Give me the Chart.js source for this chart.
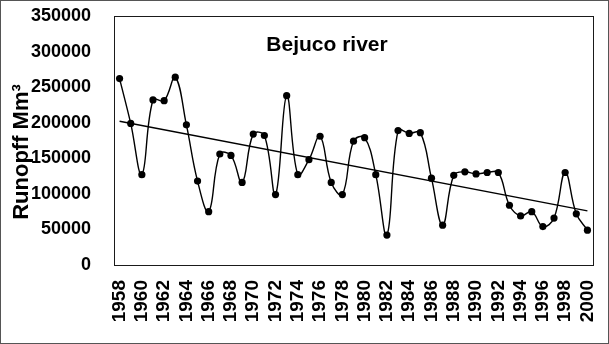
<!DOCTYPE html>
<html>
<head>
<meta charset="utf-8">
<script src="https://cdn.jsdelivr.net/npm/chart.js@4/dist/chart.umd.min.js"></script>
<style>
  html, body { margin: 0; padding: 0; background: #fff; }
  #wrap { width: 609px; height: 344px; }
</style>
</head>
<body>
<div id="wrap"><canvas id="runoffChart" width="609" height="344"></canvas></div>
<script>
const years = [1958, 1959, 1960, 1961, 1962, 1963, 1964, 1965, 1966, 1967,
    1968, 1969, 1970, 1971, 1972, 1973, 1974, 1975, 1976, 1977,
    1978, 1979, 1980, 1981, 1982, 1983, 1984, 1985, 1986, 1987,
    1988, 1989, 1990, 1991, 1992, 1993, 1994, 1995, 1996, 1997,
    1998, 1999, 2000];
const runoff = [262000, 199000, 127000, 232000, 231000, 264000, 197000, 118000, 75000, 156000,
    154000, 116000, 184000, 182000, 99000, 238000, 127000, 148000, 181000, 116000,
    99000, 174000, 179000, 127000, 42000, 189000, 185000, 186000, 122000, 56000,
    126000, 131000, 128000, 130000, 130000, 84000, 69000, 75000, 54000, 66000,
    130000, 72000, 49000];
// linear trend, read at first and last year
const trendEnds = [202000, 76000];
const yTicks = [0, 50000, 100000, 150000, 200000, 250000, 300000, 350000];

const trend = years.map((y, i) => i === 0 ? trendEnds[0] : (i === years.length - 1 ? trendEnds[1] : null));

const FONT = 'Arial, "Liberation Sans", sans-serif';

// keep the plot box where the reference has it
function noPad(scale) {
    scale.paddingTop = 0;
    scale.paddingBottom = 0;
    scale.paddingLeft = 0;
    scale.paddingRight = 0;
}

const decorations = {
    id: 'decorations',
    afterDraw(chart) {
        const { ctx, chartArea } = chart;
        ctx.save();
        // plot box
        ctx.strokeStyle = '#1a1a1a';
        ctx.lineWidth = 1;
        ctx.strokeRect(chartArea.left + 0.5, chartArea.top + 0.5,
            chartArea.right - chartArea.left, chartArea.bottom - chartArea.top);
        // outer frame
        ctx.strokeStyle = '#555';
        ctx.strokeRect(0.5, 0.5, chart.width - 1, chart.height - 1);
        // chart title inside the plot
        ctx.fillStyle = '#000';
        ctx.font = 'bold 21px ' + FONT;
        ctx.textAlign = 'center';
        ctx.textBaseline = 'middle';
        ctx.fillText('Bejuco river', 327, 45);
        // y axis title
        ctx.translate(22, 152);
        ctx.rotate(-Math.PI / 2);
        ctx.font = 'bold 22px ' + FONT;
        ctx.fillText('Runopff Mm\u00b3', 0, 0);
        ctx.restore();
    }
};

new Chart(document.getElementById('runoffChart'), {
    type: 'line',
    data: {
        labels: years,
        datasets: [{
            label: 'Runoff',
            data: runoff,
            borderColor: '#000',
            backgroundColor: '#000',
            borderWidth: 1.4,
            tension: 0.4,
            pointRadius: 3.6,
            pointBackgroundColor: '#000',
            pointBorderWidth: 0,
            fill: false
        }, {
            label: 'Trend',
            data: trend,
            borderColor: '#000',
            borderWidth: 1.4,
            pointRadius: 0,
            spanGaps: true,
            fill: false
        }]
    },
    options: {
        responsive: false,
        animation: false,
        layout: { padding: { top: 16, right: 16, left: 0, bottom: 0 } },
        plugins: {
            legend: { display: false },
            tooltip: { enabled: false }
        },
        scales: {
            x: {
                offset: true,
                grid: { display: false },
                border: { display: false },
                afterFit: (scale) => { scale.height = 79; noPad(scale); },
                ticks: {
                    autoSkip: false,
                    minRotation: 90,
                    maxRotation: 90,
                    padding: 7,
                    color: '#000',
                    font: { family: FONT, size: 19, weight: 'bold' },
                    callback: function (val, idx) {
                        return idx % 2 === 0 ? String(years[idx]) : null;
                    }
                }
            },
            y: {
                min: 0,
                max: 350000,
                grid: { display: false },
                border: { display: false },
                afterFit: (scale) => { scale.width = 114; noPad(scale); },
                afterBuildTicks: (scale) => { scale.ticks = yTicks.map(v => ({ value: v })); },
                ticks: {
                    padding: 15,
                    color: '#000',
                    font: { family: FONT, size: 18, weight: 'bold' },
                    callback: (v) => String(v)
                }
            }
        }
    },
    plugins: [decorations]
});
</script>
</body>
</html>
